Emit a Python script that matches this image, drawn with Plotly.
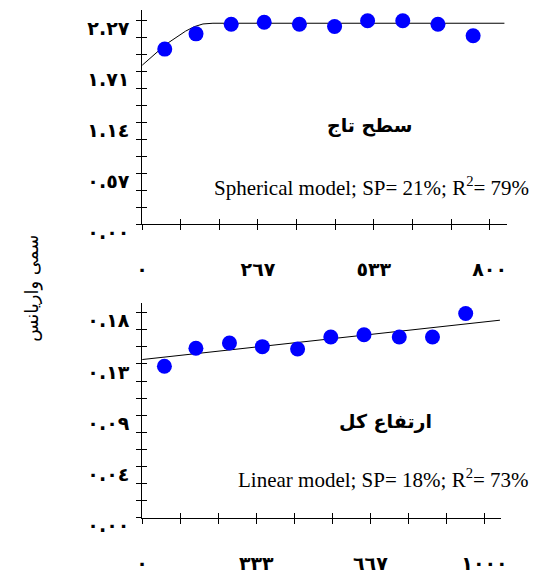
import plotly.graph_objects as go
import numpy as np

# ---------------- data ----------------
# Top panel (سطح تاج) – spherical model
top_lag = [52, 124, 205, 281, 362, 443, 519, 600, 681, 762]
top_gamma = [1.950, 2.120, 2.227, 2.249, 2.227, 2.201, 2.266, 2.266, 2.227, 2.098]
top_model_lag = [0, 20, 40, 60, 80, 100, 120, 140, 163, 834]
top_model_gamma = [1.77, 1.86, 1.94, 2.02, 2.09, 2.15, 2.20, 2.23, 2.238, 2.238]

# Bottom panel (ارتفاع کل) – linear model
bot_lag = [65, 157, 255, 351, 454, 551, 648, 751, 848, 945]
bot_gamma = [0.130, 0.1455, 0.150, 0.1469, 0.1449, 0.1552, 0.1571, 0.1552, 0.1552, 0.1754]
bot_model_lag = [0, 1045]
bot_model_gamma = [0.1358, 0.1696]

# tick labels (Arabic-Indic digits)
top_y_labels = ["٠.٠٠", "٠.٥٧", "١.١٤", "١.٧١", "٢.٢٧"]
top_x_labels = ["٠", "٢٦٧", "٥٣٣", "٨٠٠"]
bot_y_labels = ["٠.٠٠", "٠.٠٤", "٠.٠٩", "٠.١٣", "٠.١٨"]
bot_x_labels = ["٠", "٣٣٣", "٦٦٧", "١٠٠٠"]

top_y_max, top_x_max = 2.273, 800
bot_y_max, bot_x_max = 0.176, 1000

W, H = 533, 586


def ticks(vmax, n, labels, every):
    vals = list(np.linspace(0, vmax, n))
    text = []
    for i in range(n):
        text.append(labels[i // every] if i % every == 0 else " ")
    return vals, text


tyv, tyt = ticks(top_y_max, 13, top_y_labels, 3)
txv, txt = ticks(top_x_max, 10, top_x_labels, 3)
byv, byt = ticks(bot_y_max, 13, bot_y_labels, 3)
bxv, bxt = ticks(bot_x_max, 10, bot_x_labels, 3)

fig = go.Figure()

line_style = dict(color="black", width=1)
marker_style = dict(color="#0000FF", size=15)

fig.add_trace(go.Scatter(x=top_model_lag, y=top_model_gamma, mode="lines",
                         line=line_style, xaxis="x", yaxis="y", hoverinfo="skip"))
fig.add_trace(go.Scatter(x=top_lag, y=top_gamma, mode="markers",
                         marker=marker_style, xaxis="x", yaxis="y"))
fig.add_trace(go.Scatter(x=bot_model_lag, y=bot_model_gamma, mode="lines",
                         line=line_style, xaxis="x2", yaxis="y2", hoverinfo="skip"))
fig.add_trace(go.Scatter(x=bot_lag, y=bot_gamma, mode="markers",
                         marker=marker_style, xaxis="x2", yaxis="y2"))
# invisible traces so the inner-tick overlay axes are drawn
fig.add_trace(go.Scatter(x=[0], y=[0], mode="markers", opacity=0,
                         xaxis="x3", yaxis="y3", hoverinfo="skip"))
fig.add_trace(go.Scatter(x=[0], y=[0], mode="markers", opacity=0,
                         xaxis="x4", yaxis="y4", hoverinfo="skip"))

tickfont = dict(family="DejaVu Sans", size=19, color="black", weight="bold")

top_xdom = [139.3 / W, 513 / W]
top_ydom = [(H - 231.7) / H, (H - 10) / H]
bot_xdom = [139.3 / W, 506.7 / W]
bot_ydom = [(H - 535) / H, (H - 313) / H]
top_xr = [0, 841]
top_yr = [0, 2.389]
bot_xr = [0, 1049]
bot_yr = [0, 0.1845]

common = dict(showgrid=False, zeroline=False, tickcolor="black", ticklen=5,
              tickwidth=1, fixedrange=True)


def main_x(dom, anchor, rng, tv, tt, standoff):
    return dict(domain=dom, anchor=anchor, range=rng, tickmode="array",
                tickvals=tv, ticktext=tt, ticks="outside", showline=True,
                linecolor="black", linewidth=1, tickfont=tickfont,
                ticklabelstandoff=standoff, **common)


def main_y(dom, anchor, rng, tv, tt):
    return dict(domain=dom, anchor=anchor, range=rng, tickmode="array",
                tickvals=tv, ticktext=tt, ticks="outside", showline=True,
                linecolor="black", linewidth=1, tickfont=tickfont,
                ticklabelstandoff=3, ticklabelshift=8, **common)


def over(axis, anchor, rng, tv, dom):
    return dict(overlaying=axis, anchor=anchor, range=rng, tickmode="array",
                tickvals=tv, ticks="inside", showticklabels=False, domain=dom,
                showline=False, **common)


fig.update_layout(
    width=W, height=H,
    margin=dict(l=0, r=0, t=0, b=0),
    paper_bgcolor="white", plot_bgcolor="rgba(0,0,0,0)",
    showlegend=False,
    xaxis=main_x(top_xdom, "y", top_xr, txv, txt, 23),
    yaxis=main_y(top_ydom, "x", top_yr, tyv, tyt),
    xaxis2=main_x(bot_xdom, "y2", bot_xr, bxv, bxt, 24),
    yaxis2=main_y(bot_ydom, "x2", bot_yr, byv, byt),
    xaxis3=over("x", "y3", top_xr, txv, top_xdom),
    yaxis3=over("y", "x3", top_yr, tyv, top_ydom),
    xaxis4=over("x2", "y4", bot_xr, bxv, bot_xdom),
    yaxis4=over("y2", "x4", bot_yr, byv, bot_ydom),
)

fa_title = dict(family="DejaVu Sans", size=19, color="black")
en_font = dict(family="Liberation Serif", size=21, color="black")

annotations = [
    dict(text="<b>سطح تاج</b>", x=372 / W, y=(H - 130) / H, font=fa_title,
         xanchor="center", yanchor="middle"),
    dict(text="Spherical model; SP= 21%; R<sup>2</sup>= 79%", x=537 / W,
         y=(H - 193) / H, font=en_font, xanchor="right", yanchor="middle"),
    dict(text="<b>ارتفاع کل</b>", x=388 / W, y=(H - 436) / H, font=fa_title,
         xanchor="center", yanchor="middle"),
    dict(text="Linear model; SP= 18%; R<sup>2</sup>= 73%", x=537 / W,
         y=(H - 495) / H, font=en_font, xanchor="right", yanchor="middle"),
    dict(text="سمی واریانس", x=27 / W, y=(H - 298) / H, textangle=-90,
         font=dict(family="DejaVu Sans", size=18, color="black"),
         xanchor="center", yanchor="middle"),
]
for a in annotations:
    a.update(xref="paper", yref="paper", showarrow=False)
fig.update_layout(annotations=annotations)

fig.write_html("out.html", config={"displayModeBar": False},
               post_script="document.documentElement.style.overflow='hidden';"
                           "document.body.style.margin='0';"
                           "document.body.style.overflow='hidden';")
